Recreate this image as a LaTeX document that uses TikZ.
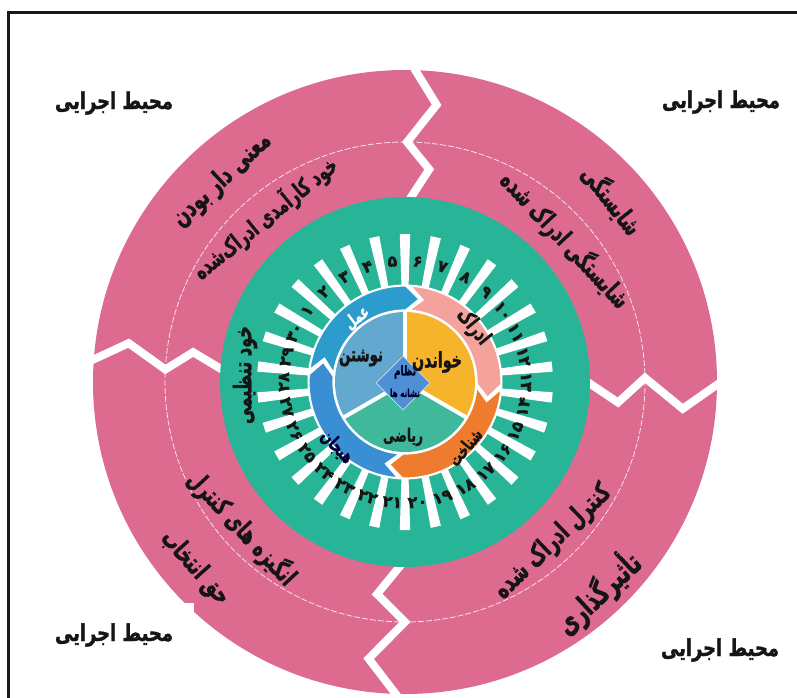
\documentclass[tikz,border=0pt]{standalone}
\usepackage{fontspec}
\usepackage{graphicx}
\usetikzlibrary{shapes.geometric}
\newfontfamily\farsi[Script=Arabic, BoldFeatures={FakeBold=1.6}]{DejaVu Sans}
\TeXXeTstate=1
\definecolor{pinkR}{HTML}{DD6B8F}
\definecolor{tealG}{HTML}{28B496}
\definecolor{ringPink}{HTML}{F4A39C}
\definecolor{ringOrange}{HTML}{EF7B2E}
\definecolor{ringBlue}{HTML}{3A8FD4}
\definecolor{ringTeal}{HTML}{2B9CCB}
\definecolor{pieYellow}{HTML}{F6B42C}
\definecolor{pieGreen}{HTML}{3FB89B}
\definecolor{pieBlue}{HTML}{62A8CF}
\definecolor{diamondB}{HTML}{4F8FD6}
\definecolor{txtDark}{HTML}{151515}
\newcommand\fatxt[3][1.5]{\scalebox{1}[#1]{\resizebox{#2}{!}{\farsi\bfseries #3}}}
\newcommand\ringseg[3]{%
  \fill[#3, draw=white, line width=1.2] (#2:96) arc[start angle=#2, end angle=#1, radius=96]
   -- ({#1-9}:84) -- (#1:72) arc[start angle=#1, end angle=#2, radius=72] -- ({#2-9}:84) -- cycle;}
\newcommand\zigzag[2]{%
  \draw[white, line width=8, line join=miter] (#1:324) -- ({#1-#2}:279) -- (#1:240) -- ({#1-#2}:214) -- (#1:178);}
\tikzset{
  lbl/.style={inner sep=0pt, text=txtDark},
  num/.style={inner sep=0pt, text=txtDark, font=\farsi\bfseries\fontsize{16}{16}\selectfont}
}
\begin{document}
\begin{tikzpicture}[x=1pt,y=1pt]
\useasboundingbox (0,0) rectangle (797,-698);
\fill[white] (0,0) rectangle (797,-698);
\begin{scope}[shift={(405,-382)}]
  % outer pink ring
  \fill[pinkR] (0,0) circle[radius=312];
  \draw[white, line width=0.8, dash pattern=on 6pt off 2pt, opacity=0.8] (0,0) circle[radius=240];
  \zigzag{89.5}{6}
  \zigzag{1}{6.5}
  \zigzag{-90}{7.5}
  \zigzag{177}{5}
\end{scope}
% white box under bottom-left label
\fill[white] (8,-603) rectangle (194,-698);
\begin{scope}[shift={(405,-382)}]
  % green disc
  \fill[tealG] (0,0) circle[radius=185];
  % white bars
  \foreach \n in {0,...,29}{
    \pgfmathsetmacro\ang{6+12*\n}
    \fill[white, rotate=\ang] (94,-3.5) -- (148,-5.2) -- (148,5.2) -- (94,3.5) -- cycle;
  }
  % numbers
  \foreach \k/\d in {1/۱,2/۲,3/۳,4/۴,5/۵,6/۶,7/۷,8/۸,9/۹,10/۱۰,11/۱۱,12/۱۲,13/۱۳,14/۱۴,15/۱۵,16/۱۶,17/۱۷,18/۱۸,19/۱۹,20/۲۰,21/۲۱,22/۲۲,23/۲۳,24/۲۴,25/۲۵,26/۲۶,27/۲۷,28/۲۸,29/۲۹,30/۳۰}{
    \pgfmathsetmacro\ang{156-12*\k}
    \pgfmathsetmacro\rot{sin(\ang)>=0 ? \ang-90 : \ang+90}
    \node[num, rotate=\rot] (n\k) at (\ang:121) {\d};
  }
  % white backing for ring
  \fill[white] (0,0) circle[radius=97.5];
  % ring segments
  \ringseg{-1.5}{86.5}{ringPink}
  \ringseg{-91.5}{-4.5}{ringOrange}
  \ringseg{-184.5}{-94.5}{ringBlue}
  \ringseg{89.5}{172.5}{ringTeal}
  % pie
  \fill[pieYellow] (0,0) -- (-30:70) arc[start angle=-30, end angle=90, radius=70] -- cycle;
  \fill[pieGreen] (0,0) -- (210:70) arc[start angle=210, end angle=330, radius=70] -- cycle;
  \fill[pieBlue] (0,0) -- (90:70) arc[start angle=90, end angle=210, radius=70] -- cycle;
  \draw[white, line width=4] (0,0) -- (90:71);
  \draw[white, line width=4] (0,0) -- (-30:71);
  \draw[white, line width=4] (0,0) -- (210:71);
  \node[diamond, fill=diamondB, draw=white!70!diamondB, line width=0.8, inner sep=0pt, minimum width=54, minimum height=54] (dia) at (-2,-1) {};
\end{scope}
% diamond texts
\node[lbl, text=black!85!blue] (d1) at (405,-372) {\fatxt{22pt}{\beginR نظام\endR}};
\node[lbl, text=black!85!blue] (d2) at (405,-393) {\fatxt{30pt}{\beginR نشانه ها\endR}};
% pie labels
\node[lbl] (p1) at (437,-362) {\fatxt{50pt}{\beginR خواندن\endR}};
\node[lbl] (p2) at (361,-358) {\fatxt{44pt}{\beginR نوشتن\endR}};
\node[lbl] (p3) at (403,-437) {\fatxt{40pt}{\beginR ریاضی\endR}};
% ring labels
\node[lbl, rotate=-51] (r1) at (473,-327) {\fatxt{40pt}{\beginR ادراک\endR}};
\node[lbl, rotate=50] (r2) at (465,-447) {\fatxt{42pt}{\beginR شناخت\endR}};
\node[lbl, rotate=-46, text=black!80!blue] (r3) at (337,-447) {\fatxt{38pt}{\beginR هیجان\endR}};
\node[lbl, rotate=37, text=white] (r4) at (357,-318) {\fatxt{26pt}{\beginR عمل\endR}};
% green band label
\node[lbl, rotate=90] (g1) at (245,-375) {\fatxt{98pt}{\beginR خود تنظیمی\endR}};
% pink band labels
\node[lbl, rotate=43] (a1) at (222,-180) {\fatxt{125pt}{\beginR معنی دار بودن\endR}};
\node[lbl, rotate=39] (a2) at (265,-218) {\fatxt{178pt}{\beginR خود کارآمدی ادراک‌شده\endR}};
\node[lbl, rotate=-52] (b1) at (612,-200) {\fatxt{80pt}{\beginR شایستگی\endR}};
\node[lbl, rotate=-47] (b2) at (565,-240) {\fatxt{176pt}{\beginR شایستگی ادراک شده\endR}};
\node[lbl, rotate=44] (c1) at (553,-542) {\fatxt{152pt}{\beginR کنترل ادراک شده\endR}};
\node[lbl, rotate=43] (c2) at (598,-593) {\fatxt{104pt}{\beginR تأثیرگذاری\endR}};
\node[lbl, rotate=-47] (e1) at (242,-528) {\fatxt{146pt}{\beginR انگیزه های کنترل\endR}};
\node[lbl, rotate=-48] (e2) at (195,-568) {\fatxt{90pt}{\beginR حق انتخاب\endR}};
% corner labels
\node[lbl] (k1) at (114,-103) {\fatxt[1.3]{118pt}{\beginR محیط اجرایی\endR}};
\node[lbl] (k2) at (721,-102) {\fatxt[1.3]{118pt}{\beginR محیط اجرایی\endR}};
\node[lbl] (k3) at (114,-635) {\fatxt[1.3]{118pt}{\beginR محیط اجرایی\endR}};
\node[lbl] (k4) at (720,-650) {\fatxt[1.3]{118pt}{\beginR محیط اجرایی\endR}};
% frame
\draw[line width=3, black!90] (8,-698) -- (8,-13) -- (797,-13);
\end{tikzpicture}
\end{document}
